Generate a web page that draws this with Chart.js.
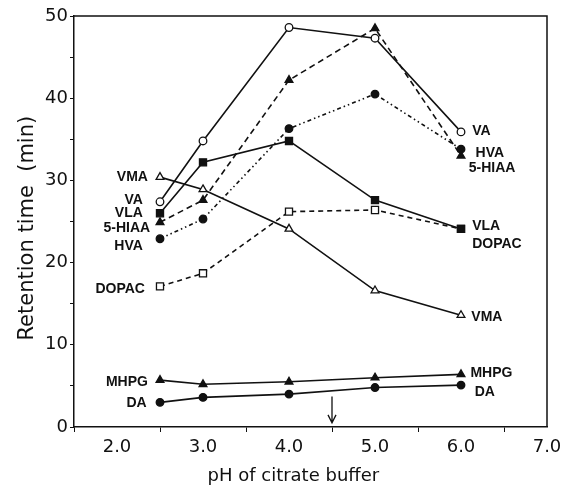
<!DOCTYPE html>
<html>
<head>
<meta charset="utf-8">
<script src="https://cdn.jsdelivr.net/npm/chart.js@4.4.1/dist/chart.umd.min.js"></script>
<style>
  html, body { margin: 0; padding: 0; background: #fff; }
  #wrap { width: 573px; height: 485px; }
</style>
</head>
<body>
<div id="wrap"><canvas id="chart"></canvas></div>
<script>
// pH values where retention was measured
const phValues = [2.5, 3.0, 4.0, 5.0, 6.0];

// retention times (min) per compound
const vaTimes     = [27.4, 34.8, 48.6, 47.3, 35.9];
const hiaaTimes   = [24.9, 27.6, 42.2, 48.5, 33.0];
const hvaTimes    = [22.9, 25.3, 36.3, 40.5, 33.8];
const vlaTimes    = [26.0, 32.2, 34.8, 27.6, 24.1];
const vmaTimes    = [30.4, 28.9, 24.1, 16.6, 13.6];
const dopacTimes  = [17.1, 18.7, 26.2, 26.4, 24.1];
const mhpgTimes   = [5.7, 5.2, 5.5, 6.0, 6.4];
const daTimes     = [3.0, 3.6, 4.0, 4.8, 5.1];

const xTicks = [2.0, 3.0, 4.0, 5.0, 6.0, 7.0];
const yTicks = [0, 10, 20, 30, 40, 50];

// curve labels next to the first and last points (data coords)
const leftLabels = [
  { text: 'VMA', x: 2.36, y: 30.4 },
  { text: 'VA', x: 2.30, y: 27.6 },
  { text: 'VLA', x: 2.30, y: 26.0 },
  { text: '5-HIAA', x: 2.385, y: 24.2 },
  { text: 'HVA', x: 2.30, y: 22.0 },
  { text: 'DOPAC', x: 2.325, y: 16.8 },
  { text: 'MHPG', x: 2.36, y: 5.5 },
  { text: 'DA', x: 2.345, y: 2.9 }
];
const rightLabels = [
  { text: 'VA', x: 6.13, y: 36.0 },
  { text: 'HVA', x: 6.17, y: 33.3 },
  { text: '5-HIAA', x: 6.09, y: 31.5 },
  { text: 'VLA', x: 6.13, y: 24.4 },
  { text: 'DOPAC', x: 6.13, y: 22.2 },
  { text: 'VMA', x: 6.12, y: 13.4 },
  { text: 'MHPG', x: 6.11, y: 6.5 },
  { text: 'DA', x: 6.16, y: 4.2 }
];
const arrowX = 4.5;

const FONT = '"DejaVu Sans", Verdana, sans-serif';
const LABEL_FONT = 'bold 14px "Liberation Sans", Arial, sans-serif';
const INK = '#111';

function toPoints(values) {
  return phValues.map((x, i) => ({ x: x, y: values[i] }));
}

function series(label, values, style, filled, dash) {
  return {
    label: label,
    data: toPoints(values),
    showLine: true,
    borderColor: INK,
    borderWidth: 1.6,
    borderDash: dash || [],
    backgroundColor: filled ? INK : '#fff',
    pointStyle: style,
    pointRadius: style === 'rect' ? 5 : (style === 'triangle' ? 4.5 : 3.8),
    pointBorderWidth: 1.3,
    pointBorderColor: INK,
    pointBackgroundColor: filled ? INK : '#fff',
    tension: 0,
    fill: false
  };
}

const labelsPlugin = {
  id: 'curveLabels',
  afterDatasetsDraw(chart) {
    const ctx = chart.ctx;
    const xs = chart.scales.x, ys = chart.scales.y;
    const area = chart.chartArea;
    ctx.save();
    // frame top and right
    ctx.strokeStyle = INK;
    ctx.lineWidth = 1.5;
    ctx.beginPath();
    ctx.moveTo(area.left, area.top);
    ctx.lineTo(area.right, area.top);
    ctx.lineTo(area.right, area.bottom);
    ctx.stroke();

    ctx.fillStyle = INK;
    ctx.font = LABEL_FONT;
    ctx.textBaseline = 'middle';
    ctx.textAlign = 'right';
    leftLabels.forEach(l => ctx.fillText(l.text, xs.getPixelForValue(l.x), ys.getPixelForValue(l.y)));
    ctx.textAlign = 'left';
    rightLabels.forEach(l => ctx.fillText(l.text, xs.getPixelForValue(l.x), ys.getPixelForValue(l.y)));

    // arrow at pH 4.5
    const ax = xs.getPixelForValue(arrowX);
    const top = ys.getPixelForValue(3.7), bot = ys.getPixelForValue(0.5);
    ctx.lineWidth = 1.3;
    ctx.beginPath();
    ctx.moveTo(ax, top);
    ctx.lineTo(ax, bot);
    ctx.moveTo(ax - 4, bot - 8);
    ctx.lineTo(ax, bot);
    ctx.lineTo(ax + 4, bot - 8);
    ctx.stroke();
    ctx.restore();
  }
};

new Chart(document.getElementById('chart'), {
  type: 'scatter',
  data: {
    datasets: [
      series('VA', vaTimes, 'circle', false),
      series('5-HIAA', hiaaTimes, 'triangle', true, [6, 4]),
      series('HVA', hvaTimes, 'circle', true, [4, 3, 1.5, 3, 1.5, 3]),
      series('VLA', vlaTimes, 'rect', true),
      series('VMA', vmaTimes, 'triangle', false),
      series('DOPAC', dopacTimes, 'rect', false, [5, 4]),
      series('MHPG', mhpgTimes, 'triangle', true),
      series('DA', daTimes, 'circle', true)
    ]
  },
  options: {
    responsive: true,
    maintainAspectRatio: false,
    animation: false,
    layout: { padding: { top: 16, right: 26, bottom: 0, left: 0 } },
    plugins: {
      legend: { display: false },
      tooltip: { enabled: false }
    },
    scales: {
      x: {
        type: 'linear',
        min: 1.5,
        max: 7.0,
        afterFit(scale) { scale.height = 58; },
        border: { color: INK, width: 1.5 },
        grid: {
          drawOnChartArea: false,
          tickLength: 5,
          // only the half-unit ticks are marked in the original
          tickColor: ctx => (ctx.tick && Math.abs(ctx.tick.value % 1 - 0.5) < 1e-6) ? INK : 'rgba(0,0,0,0)'
        },
        ticks: {
          stepSize: 0.5,
          color: INK,
          font: { family: FONT, size: 18 },
          padding: 5,
          maxRotation: 0,
          autoSkip: false,
          callback: v => xTicks.includes(v) ? v.toFixed(1) : ''
        },
        title: {
          display: true,
          // trailing spaces shift the centred title a bit to the left, as in the original
          text: 'pH of citrate buffer      ',
          color: INK,
          font: { family: FONT, size: 18, lineHeight: 1 },
          padding: { top: 0, bottom: 0 }
        }
      },
      y: {
        min: 0,
        max: 50,
        afterFit(scale) { scale.width = 74; },
        border: { color: INK, width: 1.5 },
        grid: { drawOnChartArea: false, tickLength: 4, tickColor: INK },
        ticks: {
          stepSize: 5,
          color: INK,
          font: { family: FONT, size: 18 },
          padding: 2,
          autoSkip: false,
          callback: v => yTicks.includes(v) ? String(v) : ''
        },
        title: {
          display: true,
          // trailing spaces nudge the centred title a little lower
          text: 'Retention time  (min)  ',
          color: INK,
          font: { family: FONT, size: 21, lineHeight: 1.2 },
          padding: { top: 15, bottom: 0 }
        }
      }
    }
  },
  plugins: [labelsPlugin]
});
</script>
</body>
</html>
